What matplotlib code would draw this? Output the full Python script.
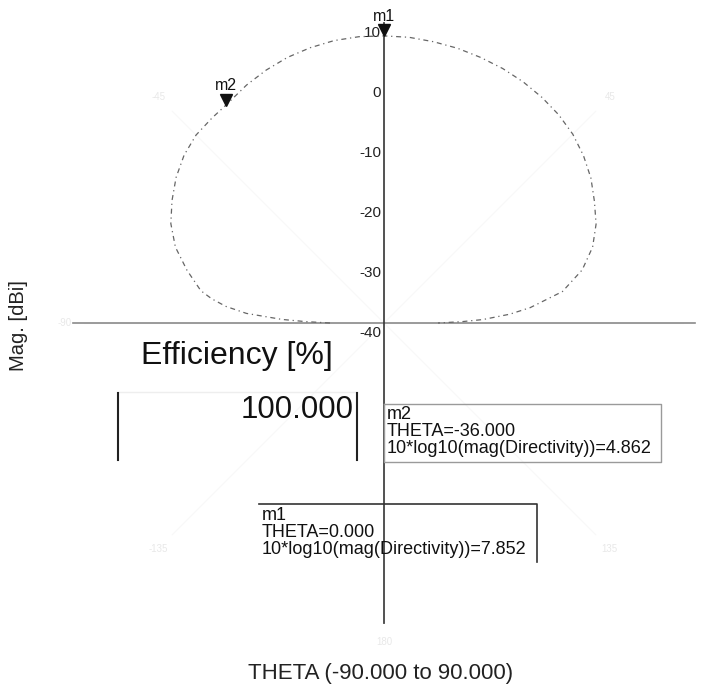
import numpy as np
import matplotlib
matplotlib.use("Agg")
import matplotlib.pyplot as plt
from matplotlib import transforms

plt.rcParams['font.family'] = ['Liberation Sans', 'DejaVu Sans']

# far-field cut, THETA in degrees, directivity in dBi
theta_deg = [-90, -89, -88, -86, -84, -82, -80, -75, -70, -65, -60, -55, -50,
             -45, -40, -36, -30, -25, -20, -15, -10, -5, 0, 5, 10, 15, 20, 25,
             30, 35, 40, 45, 50, 55, 60, 65, 70, 75, 80, 84, 86, 88, 89, 90]
mag_dbi = [-31.0, -27.0, -23.0, -17.0, -13.5, -11.0, -9.0, -6.0, -3.0, -0.8,
           0.8, 2.3, 3.5, 4.3, 4.6, 4.862, 5.8, 6.5, 7.1, 7.5, 7.8, 7.9, 7.852,
           7.8, 7.6, 7.4, 7.1, 6.8, 6.4, 5.9, 5.3, 4.5, 3.4, 2.1, 0.5, -1.0,
           -3.0, -5.8, -9.8, -15.5, -19.0, -23.5, -27.0, -31.0]

r_ticks = [10, 0, -10, -20, -30, -40]
angle_labels = [-135, -90, -45, 45, 135, 180]

# markers: name, THETA, value
markers = [("m1", 0.0, 7.852), ("m2", -36.0, 4.862)]
efficiency = 100.000

W, H = 702, 687
fig = plt.figure(figsize=(W / 100, H / 100), dpi=100)

# polar plot, -40 dBi at the centre, 10 dBi at 300 px
cx, cy, R = 384, 323, 300
ax = fig.add_axes([(cx - R) / W, (H - cy - R) / H, 2 * R / W, 2 * R / H],
                  projection='polar')
ax.set_theta_zero_location('N')
ax.set_theta_direction(-1)
ax.set_rlim(-40, 10)
ax.set_xticks([])
ax.set_yticks([])
ax.grid(False)
ax.spines['polar'].set_visible(False)
ax.patch.set_alpha(0)

# barely visible spokes and angle labels
for a in range(0, 360, 45):
    ax.plot(np.radians([a, a]), [-40, 10], color='#f8f8f8', lw=0.8,
            zorder=0)
for a in angle_labels:
    ax.text(np.radians(a), 13.2, str(a), color='#e8e8e8', fontsize=7,
            ha='center', va='center', clip_on=False)

# axes through the centre
ax.plot(np.radians([-90, -90]), [11.8, -40], color='#8a8a8a', lw=1.2,
        clip_on=False, zorder=2)
ax.plot(np.radians([90, 90]), [-40, 11.8], color='#8a8a8a', lw=1.2,
        clip_on=False, zorder=2)
ax.plot(np.radians([0, 0]), [-40, 10], color='#444444', lw=1.3,
        clip_on=False, zorder=2)
ax.plot(np.radians([180, 180]), [-40, 10], color='#444444', lw=1.3,
        clip_on=False, zorder=2)

for v in r_ticks:
    ax.annotate(str(v), xy=(0, v), xytext=(-2, -7),
                textcoords='offset points', ha='right', va='center',
                fontsize=11, color='#222222', annotation_clip=False)

ax.plot(np.radians(theta_deg), mag_dbi, color='#666666', lw=0.9,
        linestyle=(0, (4, 3, 1, 3)), zorder=3, clip_on=False)

# marker triangles sit with their tip on the trace
tip = transforms.offset_copy(ax.transData, fig=fig, x=0, y=4, units='points')
for name, th, val in markers:
    ax.plot(np.radians(th), val, marker='v', ms=8, color='#111111',
            transform=tip, clip_on=False, zorder=5)
    ax.annotate(name, xy=(np.radians(th), val), xytext=(0, 14),
                textcoords='offset points', ha='center', va='center',
                fontsize=11.5, color='#111111', annotation_clip=False)

# overlay in pixel units for labels and readouts
ov = fig.add_axes([0, 0, 1, 1])
ov.set_xlim(0, W)
ov.set_ylim(H, 0)
ov.axis('off')
ov.patch.set_alpha(0)

ov.text(19, 326, "Mag. [dBi]", rotation=90, ha='center', va='center',
        fontsize=14.5, color='#222222')
ov.text(381, 673, "THETA (-90.000 to 90.000)", ha='center', va='center',
        fontsize=16, color='#222222')

ov.text(237, 356, "Efficiency [%]", ha='center', va='center', fontsize=23,
        color='#111111')
ov.plot([118, 357], [392, 392], color='#eeeeee', lw=1)
ov.plot([118, 118], [393, 460], color='#222222', lw=1.5)
ov.plot([357, 357], [393, 460], color='#222222', lw=1.5)
ov.text(354, 410, f"{efficiency:.3f}", ha='right', va='center',
        fontsize=22.5, color='#111111')

m1, m2 = markers
ov.plot([384, 661, 661, 384, 384], [404, 404, 462, 462, 404],
        color='#9a9a9a', lw=1)
ov.text(387, 406, f"{m2[0]}\nTHETA={m2[1]:.3f}\n"
        f"10*log10(mag(Directivity))={m2[2]:.3f}", ha='left', va='top',
        fontsize=13, linespacing=1.0, color='#111111')

ov.plot([259, 537, 537], [504, 504, 562], color='#333333', lw=1.2)
ov.text(262, 507, f"{m1[0]}\nTHETA={m1[1]:.3f}\n"
        f"10*log10(mag(Directivity))={m1[2]:.3f}", ha='left', va='top',
        fontsize=13, linespacing=1.0, color='#111111')

fig.savefig("out.png", dpi=100)
